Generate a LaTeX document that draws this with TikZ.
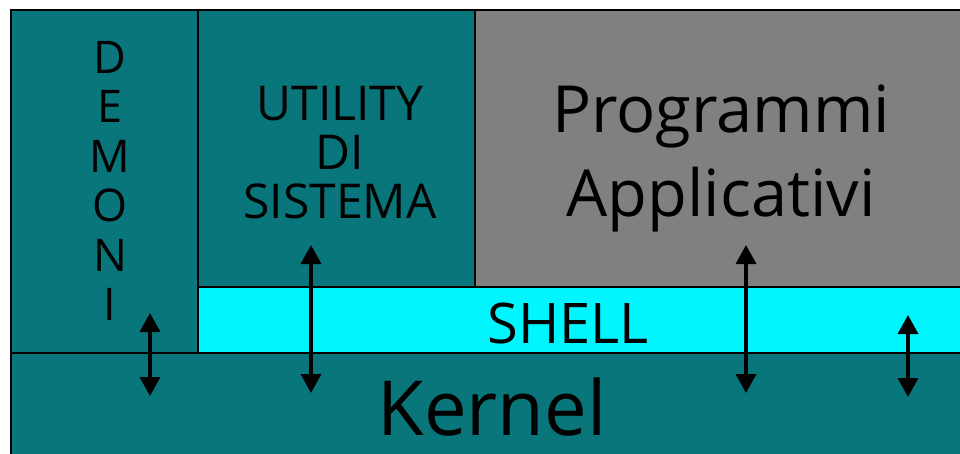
\documentclass[tikz,border=0pt]{standalone}
\usepackage{fontspec}
\setmainfont{Open Sans}
\usetikzlibrary{arrows.meta,positioning}
\definecolor{tealbox}{RGB}{8,118,122}
\definecolor{graybox}{RGB}{128,128,128}
\definecolor{shellcyan}{RGB}{0,246,255}

\begin{document}
\begin{tikzpicture}[x=1pt, y=-1pt,
  lay/.style={draw=black, line width=2.8pt, anchor=north west, inner sep=0pt, outer sep=0pt},
  lbl/.style={align=center, inner sep=0pt, text=black, text depth=0pt},
  io/.style={{Triangle[width=20pt,length=19pt]}-{Triangle[width=20pt,length=19pt]}, line width=3.5pt}
]
\clip (0,0) rectangle (960,454);
\fill[white] (0,0) rectangle (960,454);

% layers
\node[lay, fill=tealbox, minimum width=187pt, minimum height=343pt] (demoni) at (11,10) {};
\node[lay, fill=tealbox, minimum width=277pt, minimum height=277pt] (utility) at (198,10) {};
\node[lay, fill=graybox, minimum width=500pt, minimum height=277pt] (prog) at (475,10) {};
\node[lay, fill=shellcyan, minimum width=780pt, minimum height=66pt] (shell) at (198,287) {};
\node[lay, fill=tealbox, minimum width=970pt, minimum height=120pt] (kernel) at (11,353) {};

% labels
\node[lbl, font=\fontsize{45}{49.4}\selectfont] (tdem) at (110,181) {D\\E\\M\\O\\N\\I};
\node[lbl, font=\fontsize{48}{49}\selectfont] (tutil) at (340,152) {UTILITY\\DI\\SISTEMA};
\node[lbl, font=\fontsize{65}{84}\selectfont] (tprog) at (721,151) {Programmi\\Applicativi};
\node[lbl, font=\fontsize{56}{60}\selectfont, anchor=base] (tshell) at (568,343) {SHELL};
\node[lbl, font=\fontsize{76}{90}\selectfont, anchor=base] (tkern) at (492,435) {Kernel};

% calls between layers
\coordinate (dem-up) at (150,313);
\coordinate (dem-dn) at (150,396);
\coordinate (util-up) at (311,245);
\coordinate (util-dn) at (311,393);
\coordinate (prog-up) at (746,245);
\coordinate (prog-dn) at (746,393);
\coordinate (sh-up) at (908,315);
\coordinate (sh-dn) at (908,397);
\draw[io] (dem-up) -- (dem-dn);
\draw[io] (util-up) -- (util-dn);
\draw[io] (prog-up) -- (prog-dn);
\draw[io] (sh-up) -- (sh-dn);
\end{tikzpicture}
\end{document}
